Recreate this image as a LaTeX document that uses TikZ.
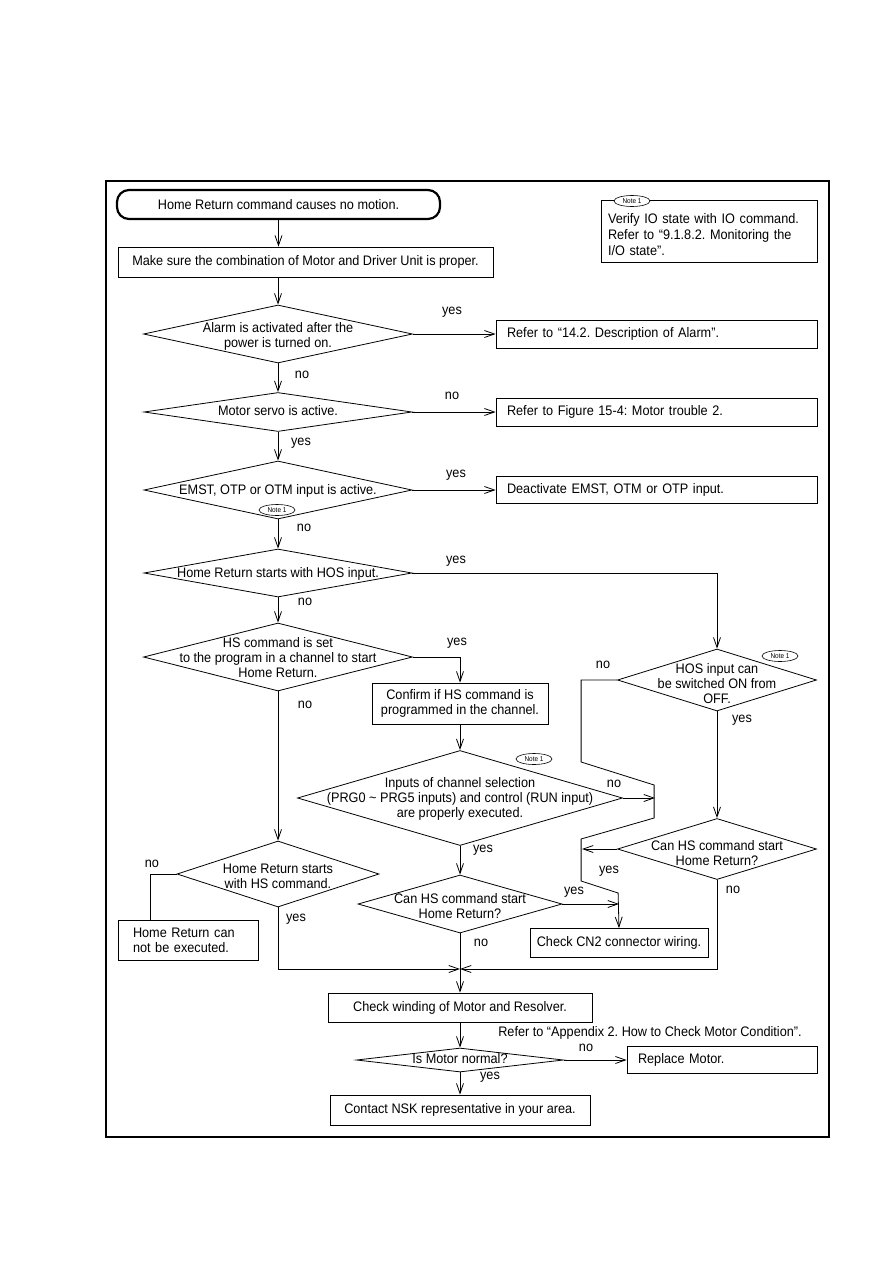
\documentclass[tikz,border=0pt]{standalone}
\usepackage{fontspec}
\setmainfont{Liberation Sans}[FakeStretch=0.92]
\usetikzlibrary{arrows.meta, shapes.geometric}
\frenchspacing

% text of a decision, kept out of the diamond's size
\newcommand\dtext[2][-4pt]{\raisebox{#1}[0pt][0pt]{\makebox[0pt]{\begin{tabular}{@{}c@{}}#2\end{tabular}}}}

\begin{document}
\begin{tikzpicture}[
  x=1pt, y=-1pt,
  font=\fontsize{13.8}{15}\selectfont,
  line width=0.8pt,
  >={Straight Barb[length=10pt,width=7pt]},
  box/.style={rectangle, draw, align=center, inner sep=0pt},
  lbox/.style={rectangle, draw, align=left, inner ysep=0pt, inner xsep=11pt, text width=299pt},
  dec/.style={diamond, draw, inner sep=0pt},
  term/.style={rectangle, draw, rounded corners=12pt, line width=2.2pt, inner sep=0pt},
  tag/.style={ellipse, draw, fill=white, inner sep=0pt, line width=0.6pt, minimum width=36pt, minimum height=11pt, font=\fontsize{7}{7}\selectfont},
  lbl/.style={inner sep=0pt}
]
\useasboundingbox (0,0) rectangle (893,1263);
\draw[line width=1.5pt] (106,181) rectangle (829,1137);

% Start and note
\node[term, minimum width=323pt, minimum height=29pt] (start) at (278.5,204.5) {Home Return command causes no motion.};
\node[lbox, text width=202pt, inner xsep=7pt, minimum height=62pt, font=\fontsize{13.8}{16}\selectfont] (note) at (709,231) {\rule{0pt}{17pt}Verify IO state with IO command.\\Refer to “9.1.8.2. Monitoring the\\I/O state”.};
\node[tag] (tagnote) at (632,201) {Note 1};

% Main column
\node[box, minimum width=375pt, minimum height=30pt] (combo) at (305.5,262) {Make sure the combination of Motor and Driver Unit is proper.};
\node[dec, minimum width=269pt, minimum height=58pt] (alarm) at (278,334) {\dtext[-6.5pt]{Alarm is activated after the\\power is turned on.}};
\node[lbox, minimum height=28pt] (alarmref) at (656.5,334) {Refer to “14.2. Description of Alarm”.};
\node[dec, minimum width=268pt, minimum height=39pt] (servo) at (278,412) {\dtext[-4.5pt]{Motor servo is active.}};
\node[lbox, minimum height=28pt] (servoref) at (656.5,412) {Refer to Figure 15-4: Motor trouble 2.};
\node[dec, minimum width=268pt, minimum height=58pt] (emst) at (278,490) {\dtext[-5.5pt]{EMST, OTP or OTM input is active.}};
\node[tag] (tagemst) at (277,510) {Note 1};
\node[lbox, minimum height=27pt] (emstref) at (656.5,490) {Deactivate EMST, OTM or OTP input.};
\node[dec, minimum width=268pt, minimum height=48pt] (hosin) at (278,573) {\dtext[-5pt]{Home Return starts with HOS input.}};
\node[dec, minimum width=269pt, minimum height=68pt] (hscmd) at (278,657) {\dtext[-6pt]{HS command is set\\to the program in a channel to start\\Home Return.}};
\node[dec, minimum width=202pt, minimum height=66pt] (hsstart) at (278,874) {\dtext[-8pt]{Home Return starts\\with HS command.}};
\node[lbox, text width=110pt, inner xsep=15pt, minimum height=40pt] (noexec) at (188,940) {Home Return can\\not be executed.};

% Middle column
\node[box, minimum width=176pt, minimum height=41pt] (confirm) at (460,703.5) {Confirm if HS command is\\programmed in the channel.};
\node[dec, minimum width=325pt, minimum height=95pt] (chsel) at (460,798) {\dtext[-5pt]{Inputs of channel selection\\(PRG0 \textasciitilde{} PRG5 inputs) and control (RUN input)\\are properly executed.}};
\node[tag] (tagchsel) at (534,759) {Note 1};
\node[dec, minimum width=204pt, minimum height=58pt] (hscan) at (460,904) {\dtext[-8pt]{Can HS command start\\Home Return?}};
\node[box, minimum width=178pt, minimum height=29pt] (cn2) at (619,943) {Check CN2 connector wiring.};

% Right column
\node[dec, minimum width=199pt, minimum height=62pt] (hosok) at (717,680) {\dtext[-9pt]{HOS input can\\be switched ON from\\OFF.}};
\node[tag] (taghosok) at (780,656) {Note 1};
\node[dec, minimum width=199pt, minimum height=61pt] (hscanr) at (717,849) {\dtext[-10pt]{Can HS command start\\Home Return?}};

% Bottom
\node[box, minimum width=264pt, minimum height=29pt] (winding) at (460,1007.5) {Check winding of Motor and Resolver.};
\node[lbl] (appx) at (650,1033) {Refer to “Appendix 2. How to Check Motor Condition”.};
\node[dec, minimum width=207pt, minimum height=24pt] (motor) at (460,1060) {\dtext{Is Motor normal?}};
\node[lbox, text width=168pt, minimum height=27pt] (replace) at (722,1060) {Replace Motor.};
\node[box, minimum width=260pt, minimum height=30pt] (contact) at (460,1110) {Contact NSK representative in your area.};

% Joints
\coordinate (merge) at (460,969);
\coordinate (noin) at (655,798);
\coordinate (yesin) at (582,849);
\coordinate (yesin2) at (619,904);

% Labels
\node[lbl] (ly1) at (452,312) {yes};
\node[lbl] (ln1) at (302,375) {no};
\node[lbl] (ln2) at (452,396) {no};
\node[lbl] (ly2) at (301,443) {yes};
\node[lbl] (ly3) at (456,475) {yes};
\node[lbl] (ln3) at (304,528) {no};
\node[lbl] (ly4) at (456,561) {yes};
\node[lbl] (ln4) at (305,602) {no};
\node[lbl] (ly5) at (457,643) {yes};
\node[lbl] (ln5) at (305,705) {no};
\node[lbl] (ln6) at (603,665) {no};
\node[lbl] (ly6) at (742,720) {yes};
\node[lbl] (ln7) at (614,784) {no};
\node[lbl] (ly7) at (483,850) {yes};
\node[lbl] (ly8) at (609,871) {yes};
\node[lbl] (ln8) at (733,890) {no};
\node[lbl] (ly9) at (574,892) {yes};
\node[lbl] (ln9) at (481,943) {no};
\node[lbl] (ln10) at (152,864) {no};
\node[lbl] (ly10) at (296,919) {yes};
\node[lbl] (ln11) at (586,1048) {no};
\node[lbl] (ly11) at (490,1077) {yes};

% Arrows
\draw[->] (start.south) -- (start.south |- combo.north);
\draw[->] (alarm.north |- combo.south) -- (alarm.north);
\draw[->] (alarm.east) -- (alarmref.west);
\draw[->] (alarm.south) -- (servo.north);
\draw[->] (servo.east) -- (servoref.west);
\draw[->] (servo.south) -- (emst.north);
\draw[->] (emst.east) -- (emstref.west);
\draw[->] (emst.south) -- (hosin.north);
\draw[->] (hosin.east) -| (hosok.north);
\draw[->] (hosin.south) -- (hscmd.north);
\draw[->] (hscmd.east) -| (confirm.north);
\draw[->] (hscmd.south) -- (hsstart.north);
\draw (hsstart.west) -| ([xshift=-38pt]noexec.north);
\draw[->] (hsstart.south) |- (merge);

\draw[->] (confirm.south) -- (chsel.north);
\draw[->] (chsel.south) -- (hscan.north);
\draw[->] (chsel.east) -- (noin);
\draw[->] (hscan.east) -- (yesin2);
\draw[->] (hscan.south) -- (winding.north);

\draw[->] (hosok.south) -- (hscanr.north);
\draw[->] (hscanr.west) -- (yesin);
\draw[->] (hscanr.south) |- (merge);
\draw[->] (hosok.west) -- ++(-36,0) -- ++(0,82) -- ++(73,23) -- ++(0,33) -- ++(-73,21) -- ++(0,42) -- ++(37,12) -- (cn2.north);

\draw[->] (winding.south) -- (motor.north);
\draw[->] (motor.east) -- (replace.west);
\draw[->] (motor.south) -- (contact.north);

\end{tikzpicture}
\end{document}
